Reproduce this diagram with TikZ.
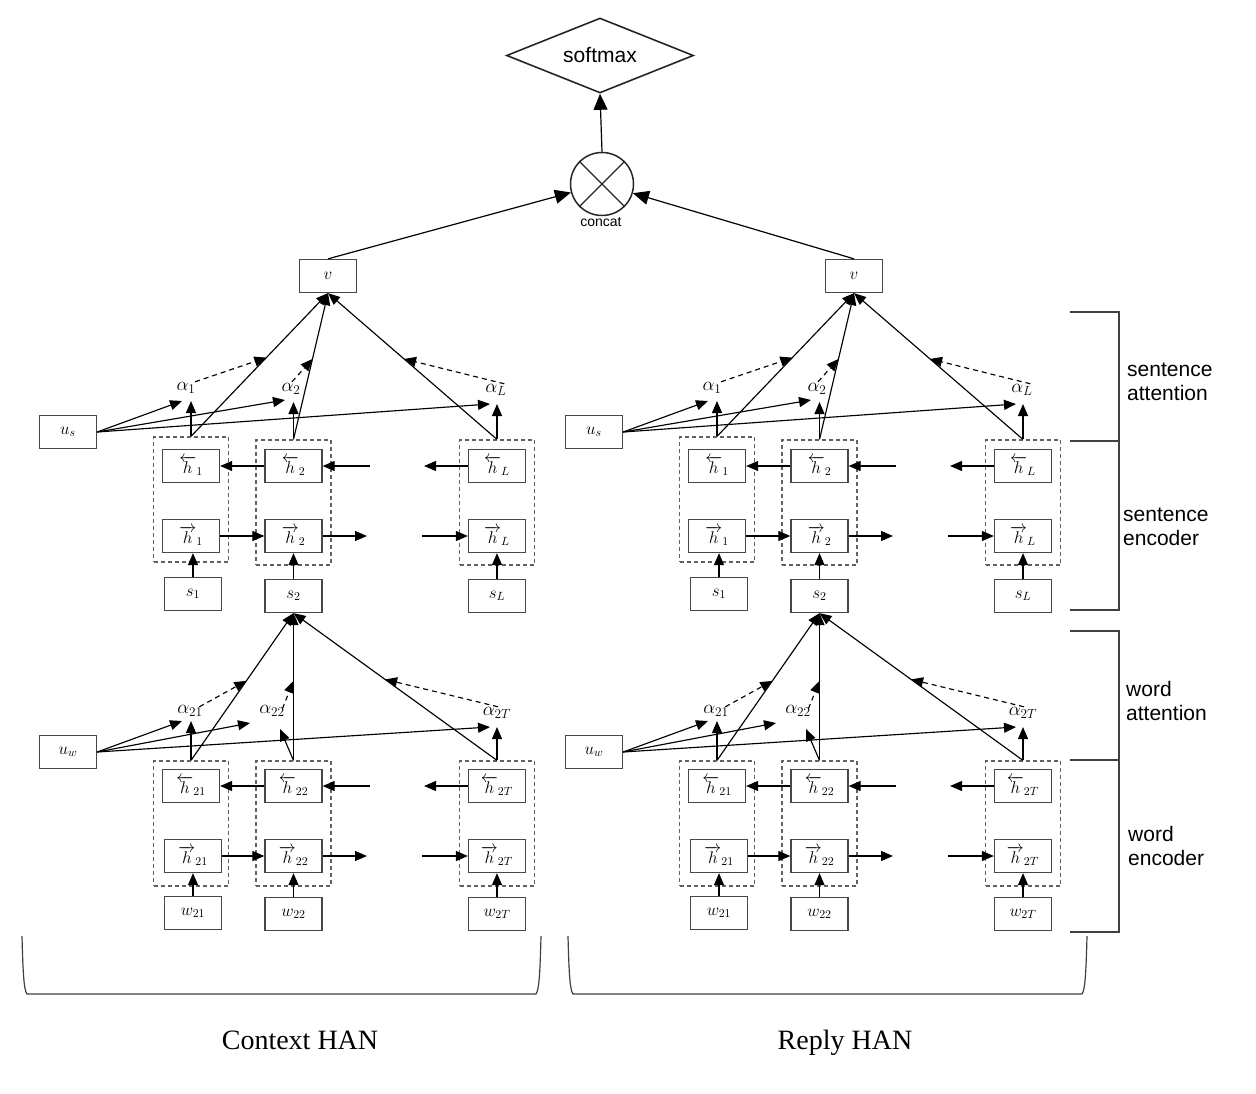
\RequirePackage{fix-cm}
\documentclass[tikz,border=0pt]{standalone}
\usepackage{fontspec}
\setmainfont{Liberation Serif}
\newfontfamily\hsans{Liberation Sans}
\usetikzlibrary{arrows.meta,shapes.geometric,calc}
\tikzset{
  box/.style={draw=black!72, line width=1.3pt, minimum width=57pt, minimum height=33pt, inner sep=0pt, font=\fontsize{17}{19}\selectfont},
  dbox/.style={draw=black!62, dash pattern=on 4pt off 3pt, line width=1.2pt, inner sep=0pt, minimum width=75pt, minimum height=125pt},
  arr/.style={-{Triangle[length=12pt,width=10pt]}, line width=1.15pt},
  darr/.style={arr, dash pattern=on 5pt off 4pt},
  bigarr/.style={-{Triangle[length=16pt,width=14pt]}, line width=1.2pt},
  alab/.style={inner sep=0.5pt, font=\fontsize{19}{21}\selectfont},
  brk/.style={line width=1.2pt, black!75},
  sidelab/.style={anchor=west, align=left, inner sep=0pt, font=\hsans\fontsize{21}{24}\selectfont},
}
\newcommand{\drawhan}[2]{%
\begin{scope}[xshift=#2pt]
% ---------- sentence level ----------
\node[box] (#1v) at (328,276) {$v$};
\node[box] (#1us) at (68,432) {$u_s$};
\node[dbox] (#1d1) at (191,499.5) {};
\node[dbox] (#1d2) at (293.5,502.5) {};
\node[dbox] (#1dL) at (497,502.5) {};
\node[box] (#1hb1) at (191,466) {$\overleftarrow{h}_{1}$};
\node[box] (#1hb2) at (293.5,466) {$\overleftarrow{h}_{2}$};
\node[box] (#1hbL) at (497,466) {$\overleftarrow{h}_{L}$};
\node[box] (#1hf1) at (191,536) {$\overrightarrow{h}_{1}$};
\node[box] (#1hf2) at (293.5,536) {$\overrightarrow{h}_{2}$};
\node[box] (#1hfL) at (497,536) {$\overrightarrow{h}_{L}$};
\node[box] (#1s1) at (193,594) {$s_1$};
\node[box] (#1s2) at (293.5,596) {$s_2$};
\node[box] (#1sL) at (497,596) {$s_L$};
\node[alab] (#1a1) at (186,388) {$\alpha_1$};
\node[alab] (#1a2) at (291,389) {$\alpha_2$};
\node[alab] (#1aL) at (496,390) {$\alpha_L$};
\coordinate (#1t1) at (182,401);
\coordinate (#1t2) at (285,400);
\coordinate (#1tL) at (490,404);
\coordinate (#1p1) at (191,401);
\coordinate (#1p2) at (293.5,402);
\coordinate (#1pL) at (497,404);
\coordinate (#1bx) at (370,466);
\coordinate (#1by) at (424,466);
\coordinate (#1fx) at (367,536);
\coordinate (#1fy) at (422,536);
% arrows
\draw[arr] (#1us.east) -- (#1t1);
\draw[arr] (#1us.east) -- (#1t2);
\draw[arr] (#1us.east) -- (#1tL);
\draw[arr] (#1d1.north) -- (#1p1);
\draw[arr] (#1d2.north) -- (#1p2);
\draw[arr] (#1dL.north) -- (#1pL);
\draw[arr] (#1d1.north) -- (#1v.south);
\draw[arr] (#1d2.north) -- (#1v.south);
\draw[arr] (#1dL.north) -- (#1v.south);
\draw[darr] ($(#1a1.north east)+(-1,0)$) -- ($(#1d1.north)!0.55!(#1v.south)$);
\draw[darr] ($(#1a2.north)+(1,-1)$) -- ($(#1d2.north)!0.55!(#1v.south)$);
\draw[darr] ($(#1aL.north east)+(-3,0)$) -- ($(#1dL.north)!0.55!(#1v.south)$);
\draw[arr] (#1hb2.west) -- (#1hb1.east);
\draw[arr] (#1bx) -- (#1hb2.east);
\draw[arr] (#1hbL.west) -- (#1by);
\draw[arr] (#1hf1.east) -- (#1hf2.west);
\draw[arr] (#1hf2.east) -- (#1fx);
\draw[arr] (#1fy) -- (#1hfL.west);
\draw[arr] (#1s1.north) -- (#1s1.north |- #1hf1.south);
\draw[arr] (#1s2.north) -- (#1hf2.south);
\draw[arr] (#1sL.north) -- (#1hfL.south);
% ---------- word level ----------
\node[box] (#1uw) at (68,752) {$u_w$};
\node[dbox] (#1e1) at (191,823.5) {};
\node[dbox] (#1e2) at (293.5,823.5) {};
\node[dbox] (#1eT) at (497,823.5) {};
\node[box] (#1gb1) at (191,786) {$\overleftarrow{h}_{21}$};
\node[box] (#1gb2) at (293.5,786) {$\overleftarrow{h}_{22}$};
\node[box] (#1gbT) at (497,786) {$\overleftarrow{h}_{2T}$};
\node[box] (#1gf1) at (193,856) {$\overrightarrow{h}_{21}$};
\node[box] (#1gf2) at (293.5,856) {$\overrightarrow{h}_{22}$};
\node[box] (#1gfT) at (497,856) {$\overrightarrow{h}_{2T}$};
\node[box] (#1w1) at (193,913) {$w_{21}$};
\node[box] (#1w2) at (293.5,914) {$w_{22}$};
\node[box] (#1wT) at (497,914) {$w_{2T}$};
\node[alab] (#1b1) at (190,711) {$\alpha_{21}$};
\node[alab] (#1b2) at (272,711) {$\alpha_{22}$};
\node[alab] (#1bT) at (497,713) {$\alpha_{2T}$};
\coordinate (#1u1) at (182,721);
\coordinate (#1u2) at (250,723);
\coordinate (#1uT) at (490,727);
\coordinate (#1q1) at (191,721);
\coordinate (#1q2) at (280,729);
\coordinate (#1qT) at (497,727);
\coordinate (#1gx) at (370,786);
\coordinate (#1gy) at (424,786);
\coordinate (#1kx) at (367,856);
\coordinate (#1ky) at (422,856);
\draw[arr] (#1uw.east) -- (#1u1);
\draw[arr] (#1uw.east) -- (#1u2);
\draw[arr] (#1uw.east) -- (#1uT);
\draw[arr] (#1e1.north) -- (#1q1);
\draw[arr] (#1e2.north) -- (#1q2);
\draw[arr] (#1eT.north) -- (#1qT);
\draw[arr] (#1e1.north) -- (#1s2.south);
\draw[arr] (#1e2.north) -- (#1s2.south);
\draw[arr] (#1eT.north) -- (#1s2.south);
\draw[darr] ($(#1b1.north east)+(-4,2)$) -- ($(#1e1.north)!0.54!(#1s2.south)$);
\draw[darr] ($(#1b2.north east)+(-3,4)$) -- ($(#1e2.north)!0.54!(#1s2.south)$);
\draw[darr] ($(#1bT.north)+(1,0)$) -- ($(#1eT.north)!0.55!(#1s2.south)$);
\draw[arr] (#1gb2.west) -- (#1gb1.east);
\draw[arr] (#1gx) -- (#1gb2.east);
\draw[arr] (#1gbT.west) -- (#1gy);
\draw[arr] (#1gf1.east) -- (#1gf2.west);
\draw[arr] (#1gf2.east) -- (#1kx);
\draw[arr] (#1ky) -- (#1gfT.west);
\draw[arr] (#1w1.north) -- (#1gf1.south);
\draw[arr] (#1w2.north) -- (#1gf2.south);
\draw[arr] (#1wT.north) -- (#1gfT.south);
\end{scope}}

\begin{document}
\begin{tikzpicture}[x=1pt,y=-1pt]
\useasboundingbox (0,0) rectangle (1256,1094);
% top
\node[diamond, draw=black!85, line width=1.6pt, minimum width=187pt, minimum height=75pt, aspect=2.5, inner sep=0pt, font=\hsans\fontsize{21}{24}\selectfont] (sm) at (600,55.5) {softmax};
\node[circle, draw=black!85, line width=1.5pt, minimum size=63pt, inner sep=0pt] (cc) at (602,184) {};
\draw[line width=1.2pt, black!85] (cc.north west) -- (cc.south east) (cc.north east) -- (cc.south west);
\node[inner sep=0pt, font=\hsans\fontsize{14}{16}\selectfont] (cclab) at (601,222) {concat};
\draw[bigarr] (cc.north) -- (sm.south);
\drawhan{L}{0}
\drawhan{R}{526}
\draw[bigarr] (Lv.north) -- (cc);
\draw[bigarr] (Rv.north) -- (cc);
% right brackets
\draw[brk] (1070,312) -- (1119,312) -- (1119,610) -- (1070,610);
\draw[brk] (1070,441) -- (1119,441);
\draw[brk] (1070,631) -- (1119,631) -- (1119,932) -- (1070,932);
\draw[brk] (1070,760) -- (1119,760);
\node[sidelab] (lsa) at (1127,382) {sentence\\attention};
\node[sidelab] (lse) at (1123,527) {sentence\\encoder};
\node[sidelab] (lwa) at (1126,701) {word\\attention};
\node[sidelab] (lwe) at (1128,846) {word\\encoder};
% bottom braces
\draw[brk] (22,936) .. controls (23,975) and (24,990) .. (27,994) -- (536,994) .. controls (539,990) and (540,975) .. (541,936);
\draw[brk] (568,936) .. controls (569,975) and (570,990) .. (573,994) -- (1082,994) .. controls (1085,990) and (1086,975) .. (1087,936);
\node[anchor=base, inner sep=0pt, font=\fontsize{28}{32}\selectfont] (ctx) at (300,1049) {Context HAN};
\node[anchor=base, inner sep=0pt, font=\fontsize{28}{32}\selectfont] (rep) at (845,1049) {Reply HAN};
\end{tikzpicture}
\end{document}
